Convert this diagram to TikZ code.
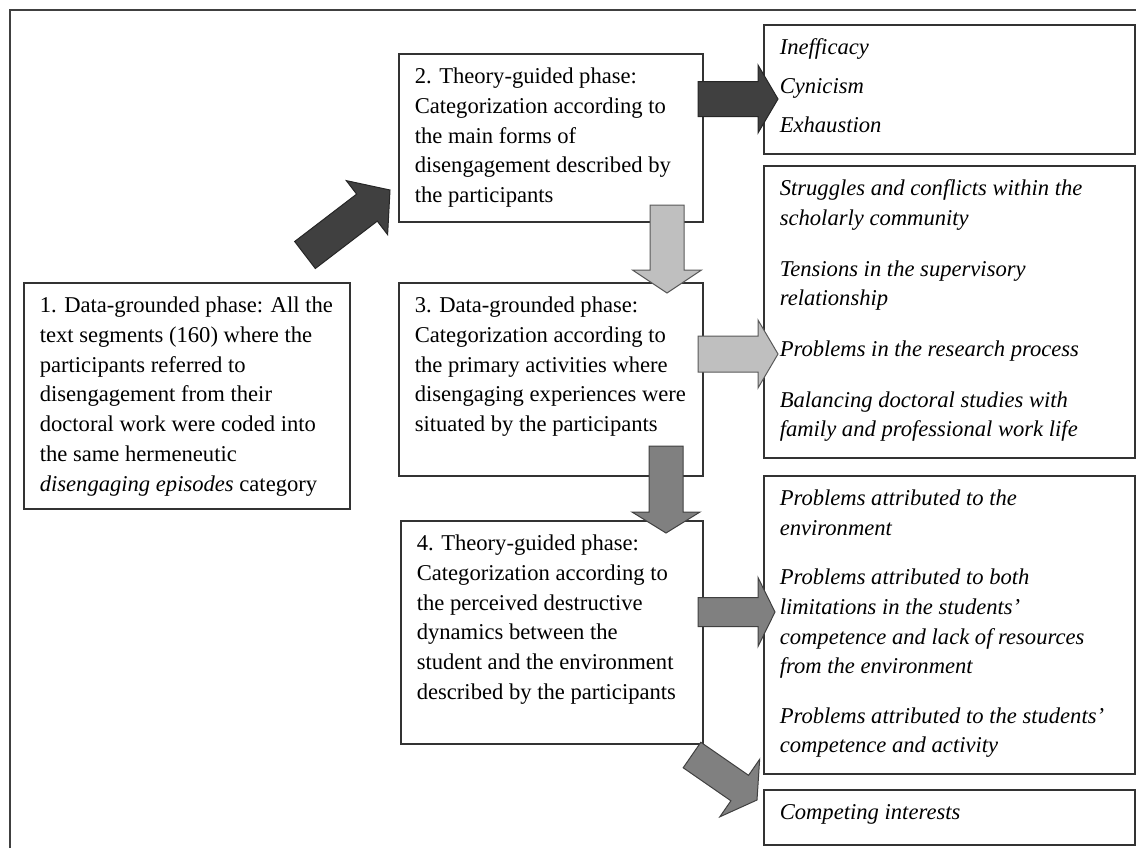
\documentclass[tikz,border=0pt]{standalone}
\usepackage{fontspec}
\setmainfont{Liberation Serif}
\usetikzlibrary{calc}

\definecolor{darkarrow}{HTML}{404040}
\definecolor{midarrow}{HTML}{808080}
\definecolor{lightarrow}{HTML}{BFBFBF}

% text of a box: width and height in pt, text starts at the top
\newcommand{\boxtext}[3]{\parbox[t][#2pt][t]{\dimexpr#1pt-16pt\relax}{\raggedright\vspace*{4.6pt}\strut#3}}

% block arrow: style, from, to, shaft half width, head half width, head length
\newcommand{\blockarrow}[6]{%
\path ($(#3)!#6!(#2)$) coordinate (ba-head);
\filldraw[#1] ($(#2)!#4!90:(#3)$) -- ($(ba-head)!#4!-90:(#2)$) -- ($(ba-head)!#5!-90:(#2)$) -- (#3)
 -- ($(ba-head)!#5!90:(#2)$) -- ($(ba-head)!#4!90:(#2)$) -- ($(#2)!#4!-90:(#3)$) -- cycle;
}

\begin{document}
\begin{tikzpicture}[x=0.5pt,y=-0.5pt,
  phase/.style={draw=black!80, line width=0.8pt, anchor=north west, inner xsep=8pt, inner ysep=0pt,
    font=\fontsize{11.3}{14.85}\selectfont},
  finding/.style={phase, font=\fontsize{11.3}{14.85}\selectfont\itshape},
  darkblock/.style={fill=darkarrow, draw=black!85, line width=0.5pt},
  midblock/.style={fill=midarrow, draw=black!75, line width=0.5pt},
  lightblock/.style={fill=lightarrow, draw=black!65, line width=0.5pt}]

\useasboundingbox (0,0) rectangle (1136,848);

% frame
\draw[black!75, line width=1pt] (10,848) -- (10,10) -- (1136,10);

% phases
\node[phase] (phase1) at (23,282) {\boxtext{163}{113}{1. Data-grounded phase: All the\\ text segments (160) where the\\ participants referred to\\ disengagement from their\\ doctoral work were coded into\\ the same hermeneutic\\ \textit{disengaging episodes} category}};
\node[phase] (phase2) at (398,53) {\boxtext{152}{84}{2. Theory-guided phase:\\ Categorization according to\\ the main forms of\\ disengagement described by\\ the participants}};
\node[phase] (phase3) at (398,282) {\boxtext{152}{96.5}{3. Data-grounded phase:\\ Categorization according to\\ the primary activities where\\ disengaging experiences were\\ situated by the participants}};
\node[phase] (phase4) at (400,520) {\boxtext{151}{111.5}{4. Theory-guided phase:\\ Categorization according to\\ the perceived destructive\\ dynamics between the\\ student and the environment\\ described by the participants}};

% findings
\node[finding] (forms) at (763,24) {\boxtext{185.5}{64.5}{Inefficacy\\[4.5pt] Cynicism\\[4.5pt] Exhaustion}};
\node[finding] (activities) at (763,165) {\boxtext{185.5}{146}{Struggles and conflicts within the\\ scholarly community\\[10.5pt] Tensions in the supervisory\\ relationship\\[10.5pt] Problems in the research process\\[10.5pt] Balancing doctoral studies with\\ family and professional work life}};
\node[finding] (dynamics) at (763,475) {\boxtext{185.5}{149}{Problems attributed to the\\ environment\\[9.8pt] Problems attributed to both\\ limitations in the students’\\ competence and lack of resources\\ from the environment\\[9.8pt] Problems attributed to the students’\\ competence and activity}};
\node[finding] (competing) at (763,789) {\boxtext{185.5}{27.5}{Competing interests}};

% arrow ends
\coordinate (phase1-out) at (305,255);
\coordinate (phase2-in) at (390,190);
\coordinate (phase2-out) at (698,99);
\coordinate (forms-in) at (778,99);
\coordinate (phase2-down) at (667,205);
\coordinate (phase3-in) at (667,293);
\coordinate (phase3-out) at (698,354);
\coordinate (activities-in) at (778,354);
\coordinate (phase3-down) at (666,446);
\coordinate (phase4-in) at (666,533);
\coordinate (phase4-out) at (698,612);
\coordinate (dynamics-in) at (775,612);
\coordinate (phase4-corner) at (692,755);
\coordinate (competing-in) at (757,800);

% arrows
\blockarrow{darkblock}{phase1-out}{phase2-in}{8.5pt}{17pt}{14.5pt}
\blockarrow{darkblock}{phase2-out}{forms-in}{8.75pt}{17pt}{10pt}
\blockarrow{lightblock}{phase2-down}{phase3-in}{8.5pt}{17.25pt}{11.5pt}
\blockarrow{lightblock}{phase3-out}{activities-in}{9pt}{17pt}{10pt}
\blockarrow{midblock}{phase3-down}{phase4-in}{8.5pt}{17pt}{10.5pt}
\blockarrow{midblock}{phase4-out}{dynamics-in}{7.25pt}{17.25pt}{8.5pt}
\blockarrow{midblock}{phase4-corner}{competing-in}{7.75pt}{17.5pt}{10.5pt}

\end{tikzpicture}
\end{document}
